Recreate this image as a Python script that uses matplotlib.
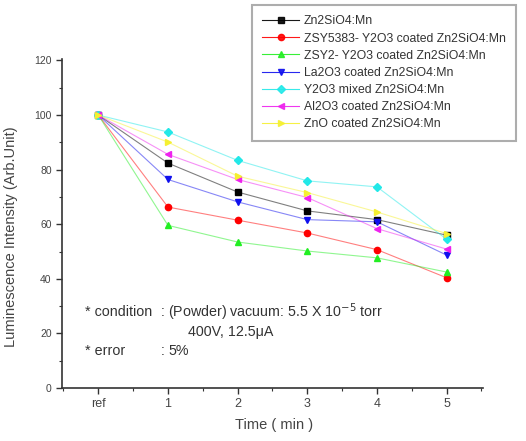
import matplotlib
matplotlib.use("Agg")
import matplotlib.pyplot as plt
from matplotlib.ticker import MultipleLocator

plt.rcParams['font.family'] = ['Liberation Sans', 'DejaVu Sans']

# data
x_pos = [0, 1, 2, 3, 4, 5]
x_labels = ['ref', '1', '2', '3', '4', '5']

zn2sio4 = [100, 82.4, 71.8, 64.9, 61.7, 56.0]
zsy5383 = [100, 66.3, 61.5, 56.8, 50.7, 40.4]
zsy2 = [100, 59.6, 53.5, 50.2, 47.7, 42.5]
la2o3 = [100, 76.4, 68.2, 61.7, 60.9, 48.7]
y2o3_mixed = [100, 93.8, 83.4, 75.9, 73.7, 54.5]
al2o3 = [100, 85.6, 76.4, 69.8, 58.4, 50.9]
zno = [100, 90.1, 77.6, 71.6, 64.5, 56.6]

series = [
    (zn2sio4, 'Zn2SiO4:Mn', 'black', 's'),
    (zsy5383, 'ZSY5383- Y2O3 coated Zn2SiO4:Mn', 'red', 'o'),
    (zsy2, 'ZSY2- Y2O3 coated Zn2SiO4:Mn', '#22ee22', '^'),
    (la2o3, 'La2O3 coated Zn2SiO4:Mn', '#1010ee', 'v'),
    (y2o3_mixed, 'Y2O3 mixed Zn2SiO4:Mn', '#22e8e8', 'D'),
    (al2o3, 'Al2O3 coated Zn2SiO4:Mn', '#ee22ee', '<'),
    (zno, 'ZnO coated Zn2SiO4:Mn', '#f5f030', '>'),
]

fig = plt.figure(figsize=(5.26, 4.41), dpi=100)
ax = fig.add_axes([0.118, 0.12, 0.8, 0.746])

for vals, name, col, mk in series:
    ax.plot(x_pos, vals, color=col, lw=0.8, alpha=0.5)
    ax.plot(x_pos, vals, linestyle='none', marker=mk, ms=4.5,
            color=col, mec=col)
    ax.plot([], [], color=col, lw=0.8, alpha=0.9, marker=mk, ms=4.5,
            label=name)

ax.set_xlim(-0.52, 5.52)
ax.set_ylim(0, 120.5)
ax.set_xticks(x_pos)
ax.set_xticklabels(x_labels)
ax.xaxis.set_minor_locator(MultipleLocator(0.5))
ax.yaxis.set_major_locator(MultipleLocator(20))
ax.yaxis.set_minor_locator(MultipleLocator(10))
ax.tick_params(which='major', direction='out', length=4, width=1,
               labelsize=7.5, colors='#333333', labelcolor='#444444')
ax.tick_params(axis='x', which='major', labelsize=9)
ax.tick_params(which='minor', direction='out', length=2, width=0.8,
               colors='#333333')
for s in ['top', 'right']:
    ax.spines[s].set_visible(False)
for s in ['left', 'bottom']:
    ax.spines[s].set_linewidth(1.2)
    ax.spines[s].set_color('#333333')

ax.set_xlabel('Time ( min )', fontsize=10.5, color='#444444')
ax.set_ylabel('Luminescence Intensity (Arb.Unit)', fontsize=10.5,
              color='#444444')
ax.xaxis.set_label_coords(0.504, -0.09)
ax.yaxis.set_label_coords(-0.105, 0.459)

# condition notes
tkw = dict(fontsize=10.3, color='#333333', va='center')
ax.text(-0.19, 27.7, '* condition', **tkw)
ax.text(0.89, 27.7, ':', **tkw)
ax.text(1.0, 27.7, '(Powder) vacuum: 5.5 X 10$^{-5}$ torr', **tkw)
ax.text(1.29, 20.4, '400V, 12.5\u03bcA', **tkw)
ax.text(-0.19, 13.5, '* error', **tkw)
ax.text(0.89, 13.5, ':', **tkw)
ax.text(1.0, 13.5, '5%', **tkw)

leg = fig.legend(loc='upper left', bbox_to_anchor=(252 / 526, 1 - 5 / 441),
                 fontsize=8.8, frameon=True, fancybox=False,
                 handlelength=3.0, handletextpad=0.4, labelspacing=0.42,
                 borderpad=0.85, borderaxespad=0)
leg.get_frame().set_edgecolor('#999999')
leg.get_frame().set_linewidth(1.5)
for t in leg.get_texts():
    t.set_color('#333333')

fig.savefig('out.png', dpi=100)
